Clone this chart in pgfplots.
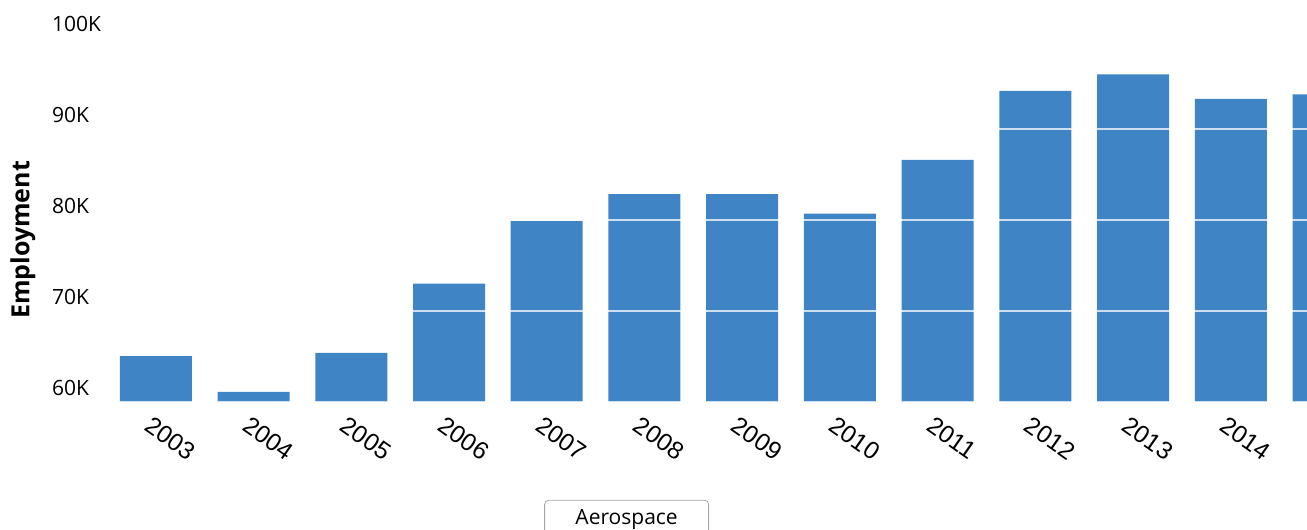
\documentclass[border=0pt]{standalone}
\usepackage{pgfplots}
\pgfplotsset{compat=1.18}
\usepackage{fontspec}
\setmainfont{Open Sans}
\newfontfamily\arialfont{Liberation Sans}
\definecolor{barblue}{RGB}{63,133,198}
\begin{document}
\begin{tikzpicture}
\path[use as bounding box] (0,0) rectangle (653.5pt,265pt);
\begin{axis}[
  at={(53.5pt,64pt)}, anchor=south west,
  scale only axis, width=600pt, height=182pt,
  xmin=-0.5, xmax=11.78, ymin=60000, ymax=100000,
  scaled y ticks=false,
  ytick={60000,70000,80000,90000,100000},
  yticklabels={60K,70K,80K,90K,100K},
  xtick={0,...,12},
  xticklabels={2003,2004,2005,2006,2007,2008,2009,2010,2011,2012,2013,2014,2015},
  axis line style={draw=none},
  major tick length=0pt,
  ymajorgrids, grid style={white, opacity=0.75, line width=1.2pt},
  axis on top,
  yticklabel style={anchor=west, xshift=-31pt, yshift=7pt, font=\fontsize{10.5}{12}\selectfont},
  xticklabel style={xshift=-2.2pt, yshift=-1.8pt, rotate=-35, anchor=north west, font=\arialfont\fontsize{12.3}{14}\selectfont},
  ylabel={Employment},
  ylabel style={at={(axis description cs:-0.07,0.445)}, anchor=center, rotate=0, font=\bfseries\fontsize{12.5}{14}\selectfont},
  legend style={at={(0.433,-0.269)}, anchor=north, draw=gray!70, rounded corners=2pt, font=\fontsize{10.5}{12}\selectfont, inner ysep=2.5pt},
  legend image code/.code={},
]
\addplot[ybar, bar width=36pt, fill=barblue, draw=none, bar shift=0pt] coordinates {
(0,65050) (1,61100) (2,65400) (3,73000) (4,79900) (5,82850) (6,82850)
(7,80700) (8,86600) (9,94200) (10,96000) (11,93300) (12,93800)};
\addlegendentry{\makebox[72pt]{Aerospace}}
\end{axis}
\end{tikzpicture}
\end{document}
